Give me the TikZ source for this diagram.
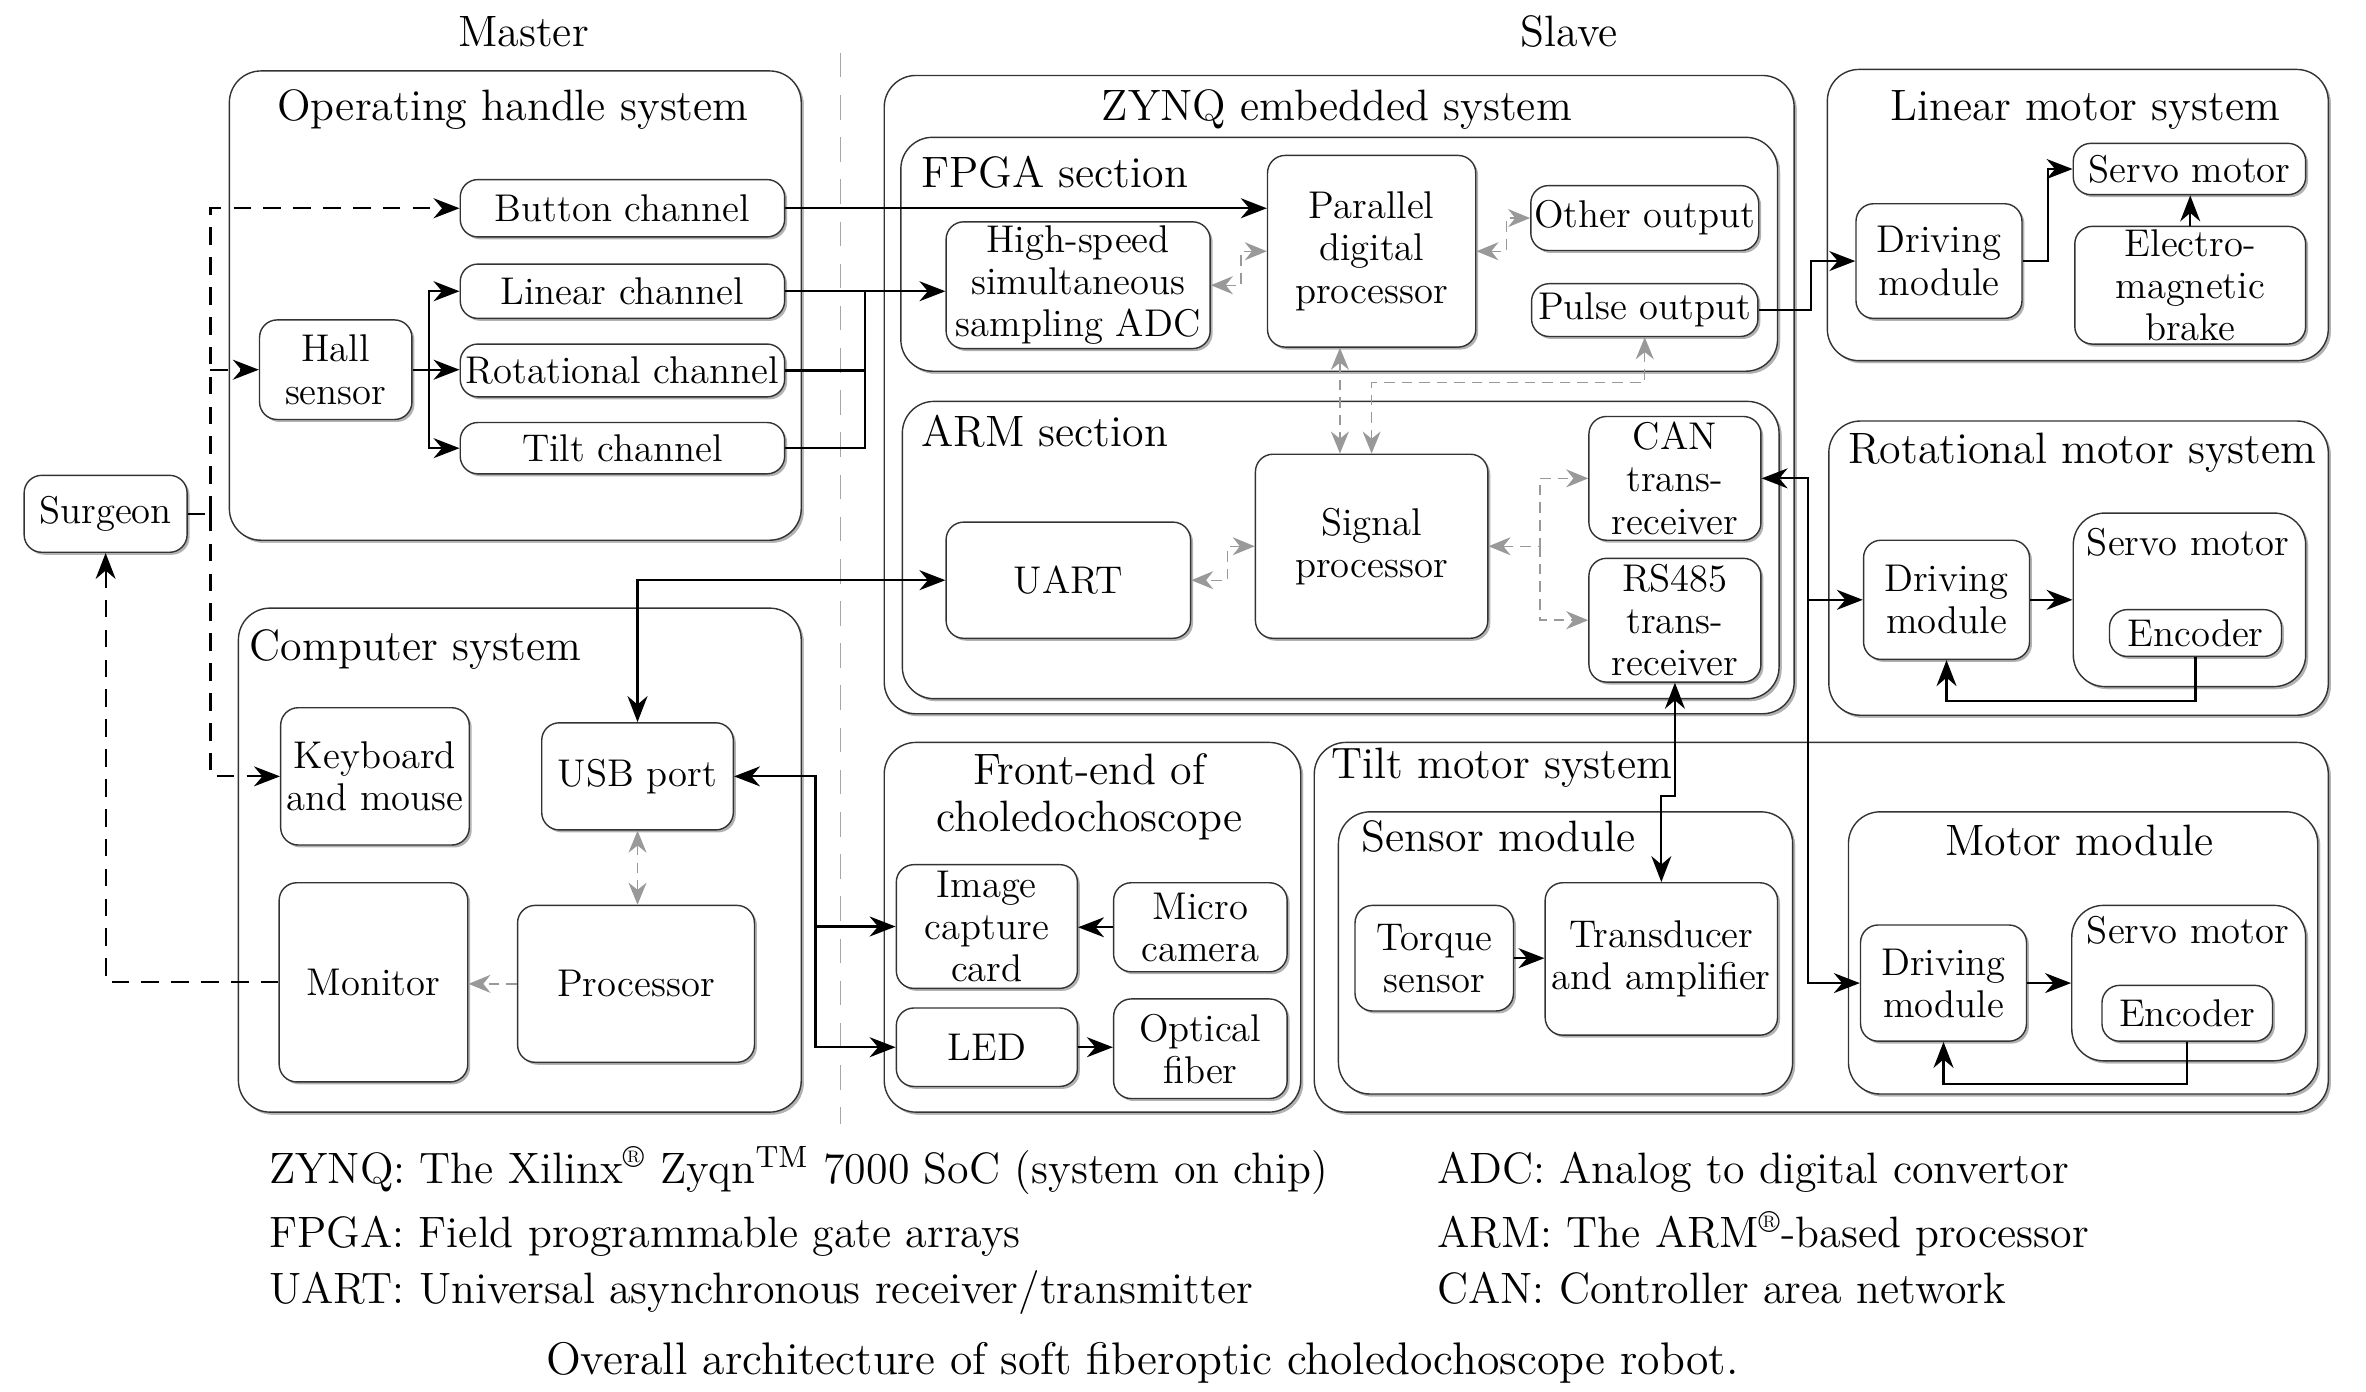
\documentclass[tikz,border=0pt]{standalone}
\usetikzlibrary{positioning, arrows.meta, calc, shadows}

\tikzset{
  blk/.style={draw=black!80, fill=white, rounded corners=5pt, align=center,
    inner xsep=1pt, inner ysep=0.5pt, font=\fontsize{11}{12}\selectfont,
    drop shadow={shadow xshift=0.7pt, shadow yshift=-0.7pt, opacity=1, fill=black!30}},
  grp/.style={blk, rounded corners=9pt},
  ttl/.style={inner sep=0pt, font=\fontsize{12.5}{13.5}\selectfont, align=center},
  sttl/.style={inner sep=0pt, font=\fontsize{11}{12}\selectfont},
  ln/.style={semithick},
  arr/.style={semithick, -{Stealth[length=2.6mm, width=2mm]}},
  arrb/.style={semithick, {Stealth[length=2.6mm, width=2mm]}-{Stealth[length=2.6mm, width=2mm]}},
  garr/.style={gray!80, densely dashed, -{Stealth[length=2.2mm, width=1.8mm]}},
  garrb/.style={gray!80, densely dashed, {Stealth[length=2.2mm, width=1.8mm]}-{Stealth[length=2.2mm, width=1.8mm]}},
  hand/.style={semithick, dash pattern=on 5pt off 3.5pt},
  handarr/.style={hand, -{Stealth[length=2.6mm, width=2mm]}},
}

% box between two corners, given in pixels of the picture
\newcommand\boxat[7][]{%
  \node[blk, #1, minimum width={(#5-#3)*0.1509mm}, minimum height={(#6-#4)*0.1509mm}]
    (#2) at ({(#3+#5)/2}, {(#4+#6)/2}) {#7};}

\begin{document}
\begin{tikzpicture}[x=0.1509mm, y=-0.1509mm]
  \useasboundingbox (0,0) rectangle (1568,922);

  % master / slave
  \node[ttl, anchor=base] (mastT) at (347,31) {Master};
  \node[ttl, anchor=base] (slvT) at (1040,31) {Slave};
  \draw[gray!70, dash pattern=on 7pt off 5pt] (557,35) -- (557,745);

  % groups
  \boxat[grp]{ohs}{152}{47}{531}{358}{}
  \boxat[grp]{cmp}{158}{403}{531}{737}{}
  \boxat[grp]{zynq}{586}{50}{1189}{473}{}
  \boxat[grp]{fpga}{597}{91}{1178}{246}{}
  \boxat[grp]{arm}{598}{266}{1179}{463}{}
  \boxat[grp]{fe}{586}{492}{862}{737}{}
  \boxat[grp]{tms}{871}{492}{1543}{737}{}
  \boxat[grp]{sens}{887}{538}{1188}{725}{}
  \boxat[grp]{mmod}{1225}{538}{1536}{725}{}
  \boxat[grp]{lms}{1211}{46}{1543}{239}{}
  \boxat[grp]{rms}{1212}{279}{1543}{474}{}
  \boxat[grp]{rsrv}{1374}{340}{1528}{455}{}
  \boxat[grp]{tsrv}{1373}{600}{1528}{703}{}

  \node[ttl, anchor=base] (ohsT) at (340,80) {Operating handle system};
  \node[ttl, anchor=base west] (cmpT) at (165,438) {Computer system};
  \node[ttl, anchor=base] (zynqT) at (886,80) {ZYNQ embedded system};
  \node[ttl, anchor=base west] (fpgaT) at (610,124) {FPGA section};
  \node[ttl, anchor=base west] (armT) at (610,296) {ARM section};
  \node[ttl] (feT) at (722,528) {Front-end of\\choledochoscope};
  \node[ttl, anchor=base west] (tmsT) at (882,516) {Tilt motor system};
  \node[ttl, anchor=base west] (sensT) at (902,564) {Sensor module};
  \node[ttl, anchor=base] (mmodT) at (1378,567) {Motor module};
  \node[ttl, anchor=base] (lmsT) at (1382,80) {Linear motor system};
  \node[ttl, anchor=base] (rmsT) at (1380,307) {Rotational motor system};
  \node[sttl, anchor=base] (rsrvT) at (1450,368) {Servo motor};
  \node[sttl, anchor=base] (tsrvT) at (1450,625) {Servo motor};

  % master side
  \boxat{sur}{16}{315}{124}{366}{Surgeon}
  \boxat{hall}{172}{212}{273}{278}{Hall\\sensor}
  \boxat{btn}{305}{119}{520}{157}{Button channel}
  \boxat{lin}{305}{175}{520}{211}{Linear channel}
  \boxat{rot}{305}{228}{520}{263}{Rotational channel}
  \boxat{tlt}{305}{280}{520}{314}{Tilt channel}
  \boxat{kbd}{186}{469}{311}{560}{Keyboard\\and mouse}
  \boxat{usb}{359}{479}{486}{550}{USB port}
  \boxat{mon}{185}{585}{310}{717}{Monitor}
  \boxat{proc}{343}{600}{500}{704}{Processor}

  % ZYNQ board
  \boxat{adc}{627}{147}{802}{231}{High-speed\\simultaneous\\sampling ADC}
  \boxat{pdp}{840}{103}{978}{230}{Parallel\\digital\\processor}
  \boxat{oth}{1015}{123}{1165}{166}{Other output}
  \boxat{pls}{1015}{188}{1165}{223}{Pulse output}
  \boxat{uart}{627}{346}{789}{423}{UART}
  \boxat{sig}{832}{301}{986}{423}{Signal\\processor}
  \boxat{can}{1053}{276}{1167}{358}{CAN\\trans-\\receiver}
  \boxat{rs}{1053}{370}{1167}{452}{RS485\\trans-\\receiver}

  % front-end
  \boxat{icc}{594}{573}{714}{655}{Image\\capture\\card}
  \boxat{cam}{738}{585}{853}{644}{Micro\\camera}
  \boxat{led}{594}{668}{714}{720}{LED}
  \boxat{fib}{738}{662}{853}{728}{Optical\\fiber}

  % motor systems
  \boxat{trq}{898}{600}{1003}{670}{Torque\\sensor}
  \boxat{trd}{1024}{585}{1178}{686}{Transducer\\and amplifier}
  \boxat{tdrv}{1233}{613}{1343}{690}{Driving\\module}
  \boxat{tenc}{1393}{653}{1506}{690}{Encoder}
  \boxat{ldrv}{1230}{135}{1340}{211}{Driving\\module}
  \boxat{lsrv}{1374}{95}{1528}{129}{Servo motor}
  \boxat{brk}{1375}{150}{1528}{228}{Electro-\\magnetic\\brake}
  \boxat{rdrv}{1235}{358}{1345}{437}{Driving\\module}
  \boxat{renc}{1398}{404}{1512}{435}{Encoder}

  % surgeon
  \draw[hand] (sur.east) -- ++(15,0) coordinate (sj);
  \draw[handarr] (sj) |- (btn.west);
  \draw[handarr] (sj) |- (kbd.west);
  \draw[handarr] (sj |- hall.west) -- (hall.west);
  \draw[handarr] (mon.west) -| (sur.south);

  % handle channels
  \draw[arr] (hall.east) -- ++(11,0) coordinate (hj) |- (lin.west);
  \draw[arr] (hall.east) -- (rot.west |- hall.east);
  \draw[arr] (hj) |- (tlt.west);
  \draw[arr] (btn.east) -- (btn.east -| pdp.west);
  \draw[arr] (lin.east) -- (lin.east -| adc.west);
  \coordinate (cj) at ($(lin.east)!0.5!(lin.east -| adc.west)$);
  \draw[ln] (rot.east) -| (cj);
  \draw[ln] (tlt.east) -| (cj);

  % inside ZYNQ
  \draw[garrb] (adc.east) -- ++(20,0) |- (pdp.west);
  \draw[garrb] (pdp.east) -- ++(20,0) |- (oth.west);
  \draw[garrb] ($(pdp.south)+(-21,0)$) -- ($(sig.north)+(-21,0)$);
  \draw[garrb] (pls.south) -- ++(0,30) -| (sig.north);
  \draw[garrb] (sig.west) -- ++(-18,0) |- (uart.east);
  \draw[garrb] (sig.east) -- ++(34,0) coordinate (sgj) |- (can.west);
  \draw[garr] (sgj) |- (rs.west);

  % out of ZYNQ
  \draw[arrb] (uart.west) -| (usb.north);
  \draw[arr] (pls.east) -- ++(35,0) |- (ldrv.west);
  \draw[arrb] (can.east) -- ++(31,0) coordinate (canj) |- (tdrv.west);
  \draw[arr] (canj |- rdrv.west) -- (rdrv.west);
  \draw[arrb] (rs.south) -- ++(0,75) -| (trd.north);

  % computer and front-end
  \draw[arrb] (usb.east) -- ++(54,0) coordinate (uj) |- (led.west);
  \draw[arr] (uj |- icc.west) -- (icc.west);
  \draw[arr] (cam.west) -- (icc.east |- cam.west);
  \draw[arr] (led.east) -- (led.east -| fib.west);
  \draw[garrb] (usb.south) -- (usb.south |- proc.north);
  \draw[garr] (proc.west) -- (proc.west -| mon.east);

  % motors
  \draw[arr] (ldrv.east) -- ++(17,0) |- (lsrv.west);
  \draw[arr] (brk.north) -- (brk.north |- lsrv.south);
  \draw[arr] (rdrv.east) -- (rdrv.east -| rsrv.west);
  \draw[arr] (renc.south) -- ++(0,29) -| (rdrv.south);
  \draw[arr] (tdrv.east) -- (tdrv.east -| tsrv.west);
  \draw[arr] (tenc.south) -- ++(0,28) -| (tdrv.south);
  \draw[arr] (trq.east) -- (trq.east -| trd.west);

  % abbreviations
  \node[ttl, anchor=base west] (abZ) at (178,784) {ZYNQ: The Xilinx\textsuperscript{\textregistered} Zyqn\textsuperscript{TM} 7000 SoC (system on chip)};
  \node[ttl, anchor=base west] (abF) at (178,827) {FPGA: Field programmable gate arrays};
  \node[ttl, anchor=base west] (abU) at (178,864) {UART: Universal asynchronous receiver/transmitter};
  \node[ttl, anchor=base west] (abA) at (952,784) {ADC: Analog to digital convertor};
  \node[ttl, anchor=base west] (abR) at (952,827) {ARM: The ARM\textsuperscript{\textregistered}-based processor};
  \node[ttl, anchor=base west] (abC) at (952,864) {CAN: Controller area network};
  \node[ttl, anchor=base, font=\fontsize{13}{14}\selectfont] (capT) at (757,911) {Overall architecture of soft fiberoptic choledochoscope robot.};
\end{tikzpicture}
\end{document}
